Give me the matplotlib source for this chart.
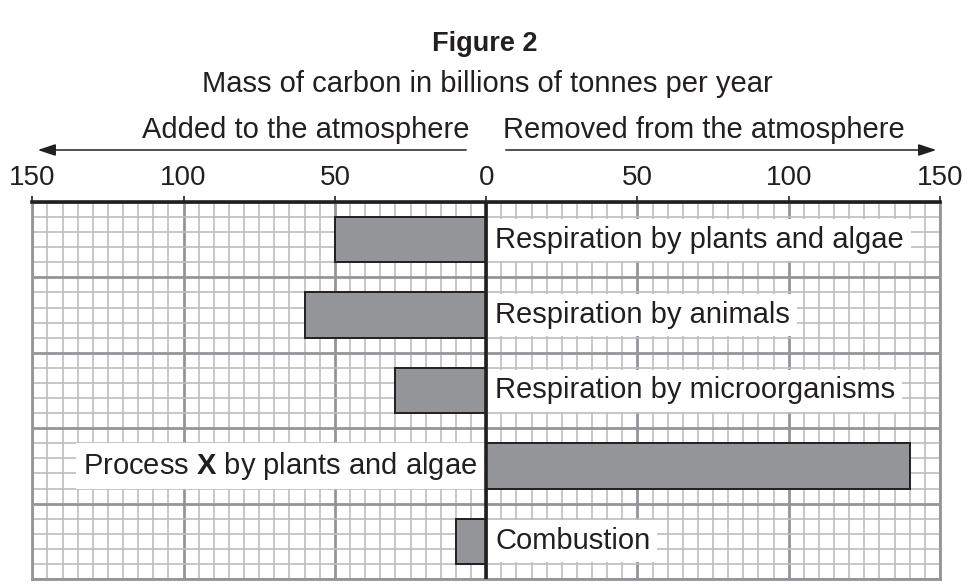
import matplotlib.pyplot as plt
import numpy as np

plt.rcParams['font.family'] = ['Liberation Sans', 'DejaVu Sans']
plt.rcParams['mathtext.fontset'] = 'custom'
plt.rcParams['mathtext.rm'] = 'Liberation Sans'
plt.rcParams['mathtext.bf'] = 'Liberation Sans:bold'

# values in billions of tonnes per year (negative = added to atmosphere)
processes = ["Respiration by plants and algae", "Respiration by animals",
             "Respiration by microorganisms", "Process $\\mathbf{X}$ by plants and algae",
             "Combustion"]
values = [-50, -60, -30, 140, -10]
tick_values = [-150, -100, -50, 0, 50, 100, 150]
tick_labels = [str(abs(v)) for v in tick_values]

ink = "#231f20"
bar_grey = "#939598"
W, H = 969, 584
fs = 21

fig = plt.figure(figsize=(W / 100, H / 100), dpi=100)
ax = fig.add_axes([32.3 / W, (H - 579) / H, (940 - 32.3) / W, (579 - 202) / H])

ax.set_xlim(-150, 150)
ax.set_ylim(25, 0)

# graph paper
ax.set_axisbelow(True)
ax.set_xticks(tick_values)
ax.set_xticks(np.arange(-150, 151, 5), minor=True)
ax.set_yticks(np.arange(0, 26, 5))
ax.set_yticks(np.arange(0, 26, 1), minor=True)
ax.grid(which="minor", color="#bdbec1", lw=1.2)
ax.grid(which="major", color="#939598", lw=2.0)

ax.xaxis.tick_top()
ax.set_xticklabels(tick_labels, fontsize=20, color=ink)
ax.tick_params(axis="x", which="major", length=4, width=1.2, color=ink, pad=4)
ax.tick_params(axis="x", which="minor", length=0)
ax.tick_params(axis="y", which="both", length=0, labelleft=False)

for s in ["left", "right", "bottom"]:
    ax.spines[s].set_color("#939598")
    ax.spines[s].set_linewidth(2.0)
ax.spines["top"].set_color(ink)
ax.spines["top"].set_linewidth(2.6)

# bars
centres = [5 * i + 2.5 for i in range(len(values))]
ax.barh(centres, values, height=3, color=bar_grey, edgecolor=ink, lw=1.4, zorder=3)
ax.axvline(0, color=ink, lw=2.6, zorder=5)

for c, v, name in zip(centres, values, processes):
    if v < 0:
        x, ha = 3, "left"
    else:
        x, ha = -3, "right"
    ax.text(x, c, name, ha=ha, va="center", fontsize=fs, color=ink, zorder=4,
            bbox=dict(facecolor="white", edgecolor="none", pad=5))

# headings
fig.text(485 / W, 1 - 44 / H, "Figure 2", ha="center", va="center",
         fontsize=19.5, fontweight="bold", color=ink)
fig.text(487 / W, 1 - 84 / H, "Mass of carbon in billions of tonnes per year",
         ha="center", va="center", fontsize=fs, color=ink)
fig.text(469 / W, 1 - 130 / H, "Added to the atmosphere", ha="right", va="center",
         fontsize=fs, color=ink)
fig.text(503 / W, 1 - 130 / H, "Removed from the atmosphere", ha="left", va="center",
         fontsize=fs, color=ink)

arrow = dict(arrowstyle="-|>,head_length=0.9,head_width=0.3", color=ink, lw=1.1)
fig.add_artist(plt.matplotlib.patches.FancyArrowPatch(
    (469 / W, 1 - 150 / H), (35 / W, 1 - 150 / H), transform=fig.transFigure,
    mutation_scale=12, **arrow))
fig.add_artist(plt.matplotlib.patches.FancyArrowPatch(
    (503 / W, 1 - 150 / H), (939 / W, 1 - 150 / H), transform=fig.transFigure,
    mutation_scale=12, **arrow))

fig.savefig("out.png", dpi=100)
